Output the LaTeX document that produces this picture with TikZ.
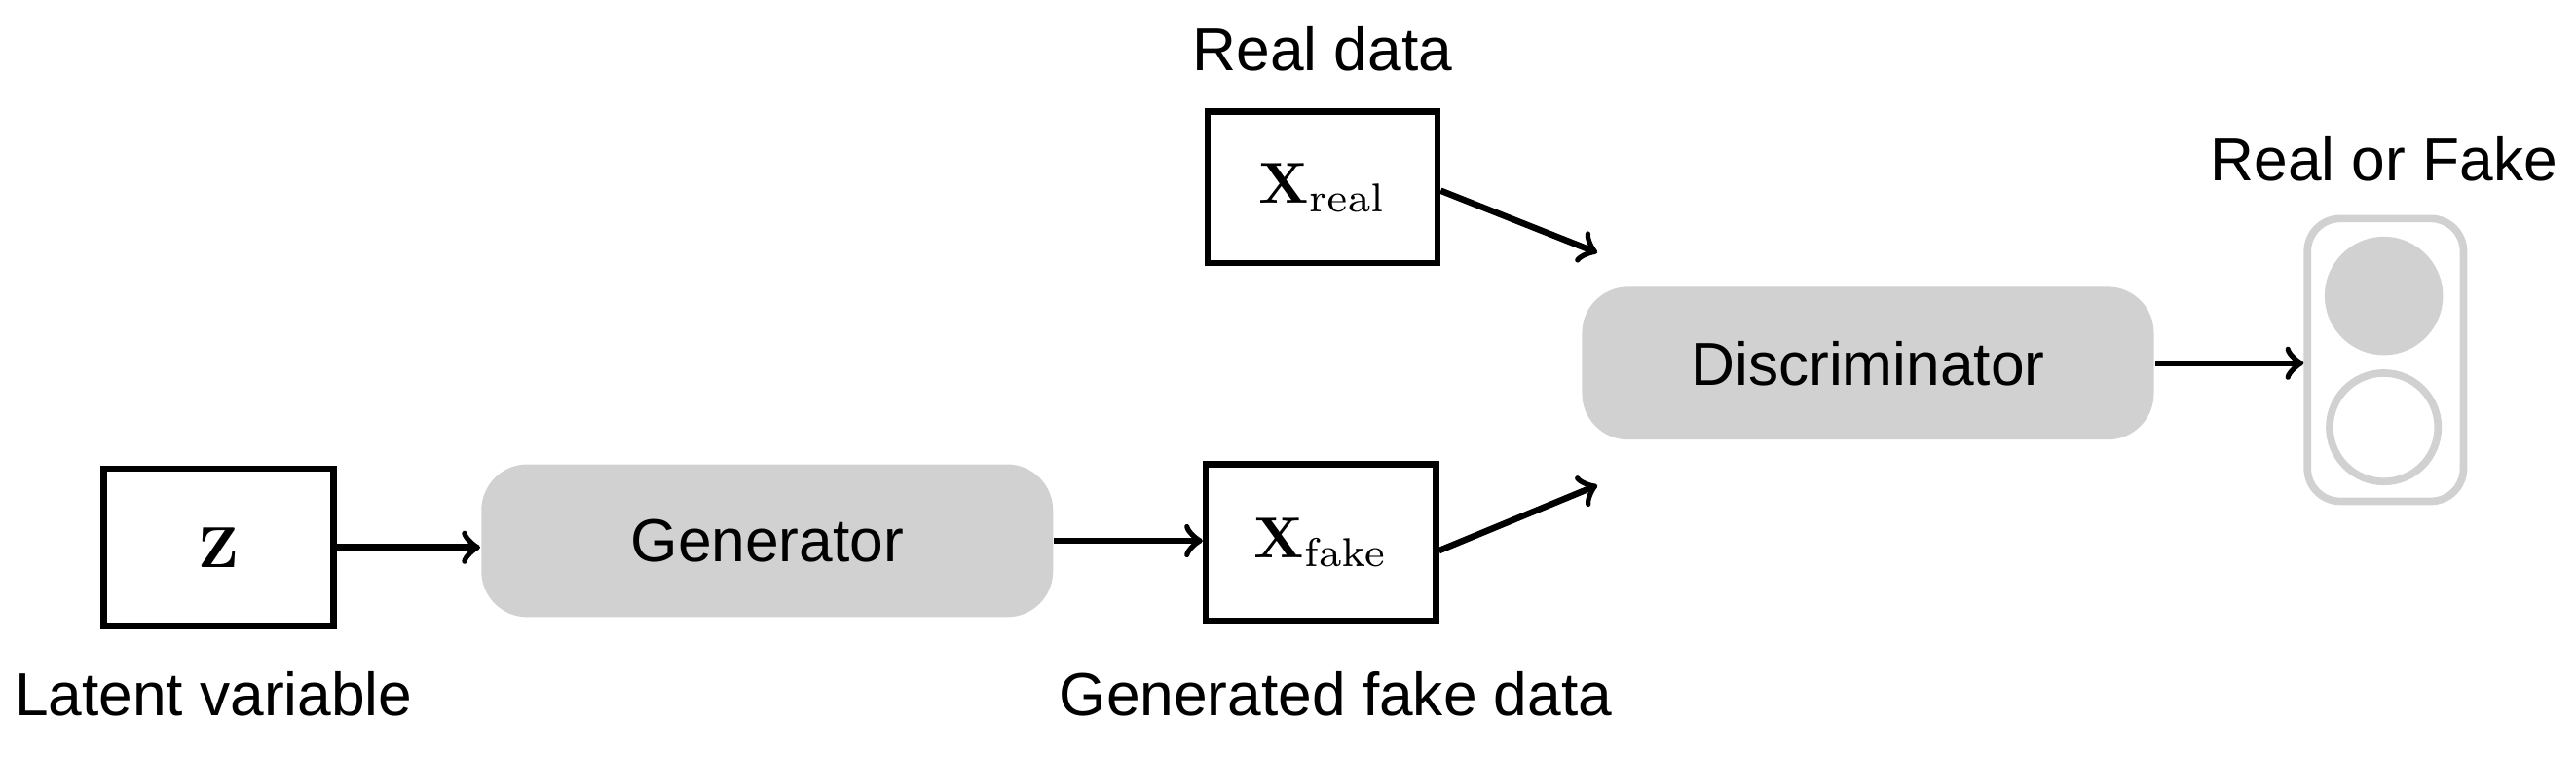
\documentclass[tikz,border=0pt]{standalone}
\usepackage[no-math]{fontspec}
\setmainfont{Liberation Sans}
\usetikzlibrary{positioning}
\begin{document}
\begin{tikzpicture}[y=-1cm,
	box/.style={draw,line width=1.1pt,minimum width=1.4cm,minimum height=0.96cm,inner sep=0pt},
	net/.style={fill=black!18,rounded corners=0.28cm,minimum width=3.48cm,minimum height=0.93cm,font=\fontsize{10.5}{12}\selectfont},
	lbl/.style={font=\fontsize{10.5}{12}\selectfont},
	arr/.style={->,line width=1.1pt}]
\useasboundingbox (0,0) rectangle (15.68,4.62);
% inputs
\node[box] (z) at (1.33,3.33) {$\fontsize{17}{19}\selectfont\mathbf{Z}$};
\node[lbl] (zl) at (1.30,4.22) {Latent variable};
\node[net] (gen) at (4.67,3.29) {Generator};
\node[box,minimum height=0.95cm] (xf) at (8.04,3.30) {$\fontsize{17}{19}\selectfont\mathbf{X}_{\mathrm{fake}}$};
\node[lbl] (xfl) at (8.13,4.22) {Generated fake data};
\node[box,minimum height=0.92cm] (xr) at (8.05,1.14) {$\fontsize{17}{19}\selectfont\mathbf{X}_{\mathrm{real}}$};
\node[lbl] (xrl) at (8.05,0.30) {Real data};
\node[net] (dis) at (11.37,2.21) {Discriminator};
% output light
\node[draw=black!18,line width=1.3pt,rounded corners=0.2cm,minimum width=0.95cm,minimum height=1.72cm] (light) at (14.52,2.19) {};
\node[circle,fill=black!18,minimum size=0.72cm,inner sep=0pt] (on) at (14.51,1.80) {};
\node[circle,draw=black!18,line width=1.3pt,minimum size=0.66cm,inner sep=0pt] (off) at (14.51,2.60) {};
\node[lbl] (ll) at (14.51,0.97) {Real or Fake};
% connectors
\draw[arr] (z.east) -- (z.east -| gen.west);
\draw[arr] (gen.east) -- (gen.east -| xf.west);
\draw[arr] ([yshift=-0.02cm]xr.east) -- ([xshift=0.1cm,yshift=0.2cm]dis.north west);
\draw[arr] ([yshift=-0.05cm]xf.east) -- ([xshift=0.1cm,yshift=-0.27cm]dis.south west);
\draw[arr] (dis.east) -- (dis.east -| light.west);
\end{tikzpicture}
\end{document}
